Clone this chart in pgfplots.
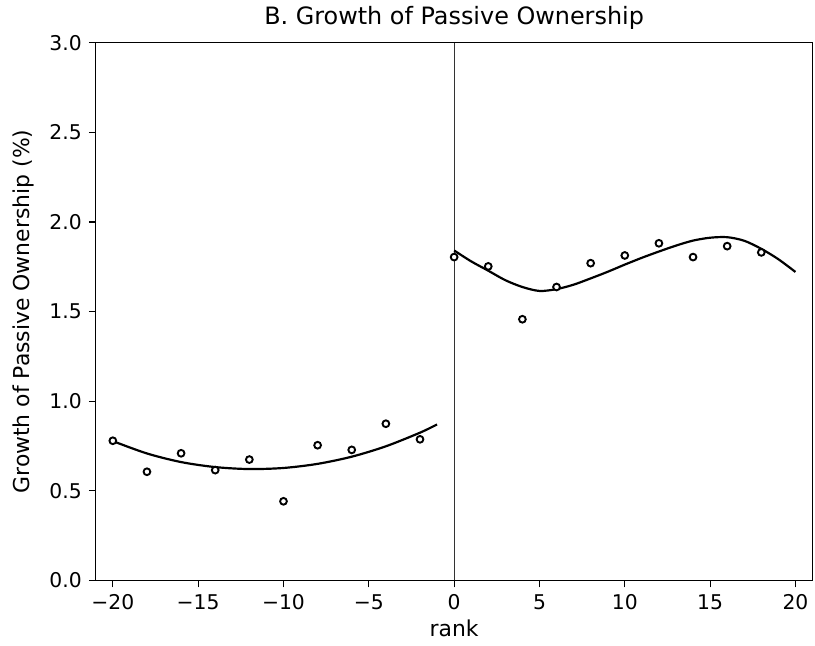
\documentclass[border=0pt]{standalone}
\usepackage{fontspec}
\setmainfont{DejaVu Sans}
\usepackage{pgfplots}
\pgfplotsset{compat=1.18}

\begin{document}
\begin{tikzpicture}
  \begin{axis}[
      scale only axis,
      width=360pt, height=270pt,
      xmin=-21, xmax=21,
      ymin=0, ymax=3,
      xtick={-20,-15,...,20},
      xticklabels={−20,−15,−10,−5,0,5,10,15,20},
      ytick={0,0.5,...,3},
      yticklabels={0.0,0.5,1.0,1.5,2.0,2.5,3.0},
      xtick pos=bottom, ytick pos=left,
      tick align=outside,
      major tick length=3.5pt,
      every tick/.style={black, line width=0.6pt},
      axis line style={line width=0.7pt},
      tick label style={font=\fontsize{10.2}{12}\selectfont},
      label style={font=\fontsize{11}{13}\selectfont},
      title style={font=\fontsize{12}{14}\selectfont, yshift=-3pt},
      title={B. Growth of Passive Ownership},
      xlabel={rank},
      ylabel={Growth of Passive Ownership (\%)},
      ylabel style={yshift=1pt},
      xlabel style={yshift=2pt},
      clip=false,
    ]

    % vertical line at the cutoff
    \addplot[black!80, line width=0.5pt] coordinates {(0,0) (0,3)};

    % fitted curves
    \addplot[black, line width=1.1pt, smooth] coordinates {
      (-20,0.777) (-18,0.708) (-16,0.660) (-14,0.632) (-12,0.621)
      (-10,0.627) (-8,0.650) (-6,0.690) (-4,0.748) (-2,0.824) (-1,0.870)
    };
    \addplot[black, line width=1.1pt, smooth] coordinates {
      (0,1.841) (1,1.780) (2,1.728) (3,1.675) (4,1.637) (5,1.615)
      (6,1.625) (7,1.650) (8,1.685) (9,1.722) (10,1.762) (11,1.800)
      (12,1.835) (13,1.868) (14,1.896) (15,1.912) (16,1.915)
      (17,1.895) (18,1.850) (19,1.792) (20,1.721)
    };

    % binned means
    \addplot[only marks, mark=*, mark size=1.7pt,
             mark options={fill=white, draw=black, line width=0.95pt}]
      coordinates {
      (-20,0.779) (-18,0.606) (-16,0.709) (-14,0.615) (-12,0.674)
      (-10,0.441) (-8,0.754) (-6,0.728) (-4,0.874) (-2,0.787)
      (0,1.804) (2,1.752) (4,1.457) (6,1.637) (8,1.770)
      (10,1.813) (12,1.881) (14,1.804) (16,1.865) (18,1.830)
    };
  \end{axis}
  \path ([xshift=-3pt,yshift=-1.5pt]current bounding box.south west);
\end{tikzpicture}
\end{document}
